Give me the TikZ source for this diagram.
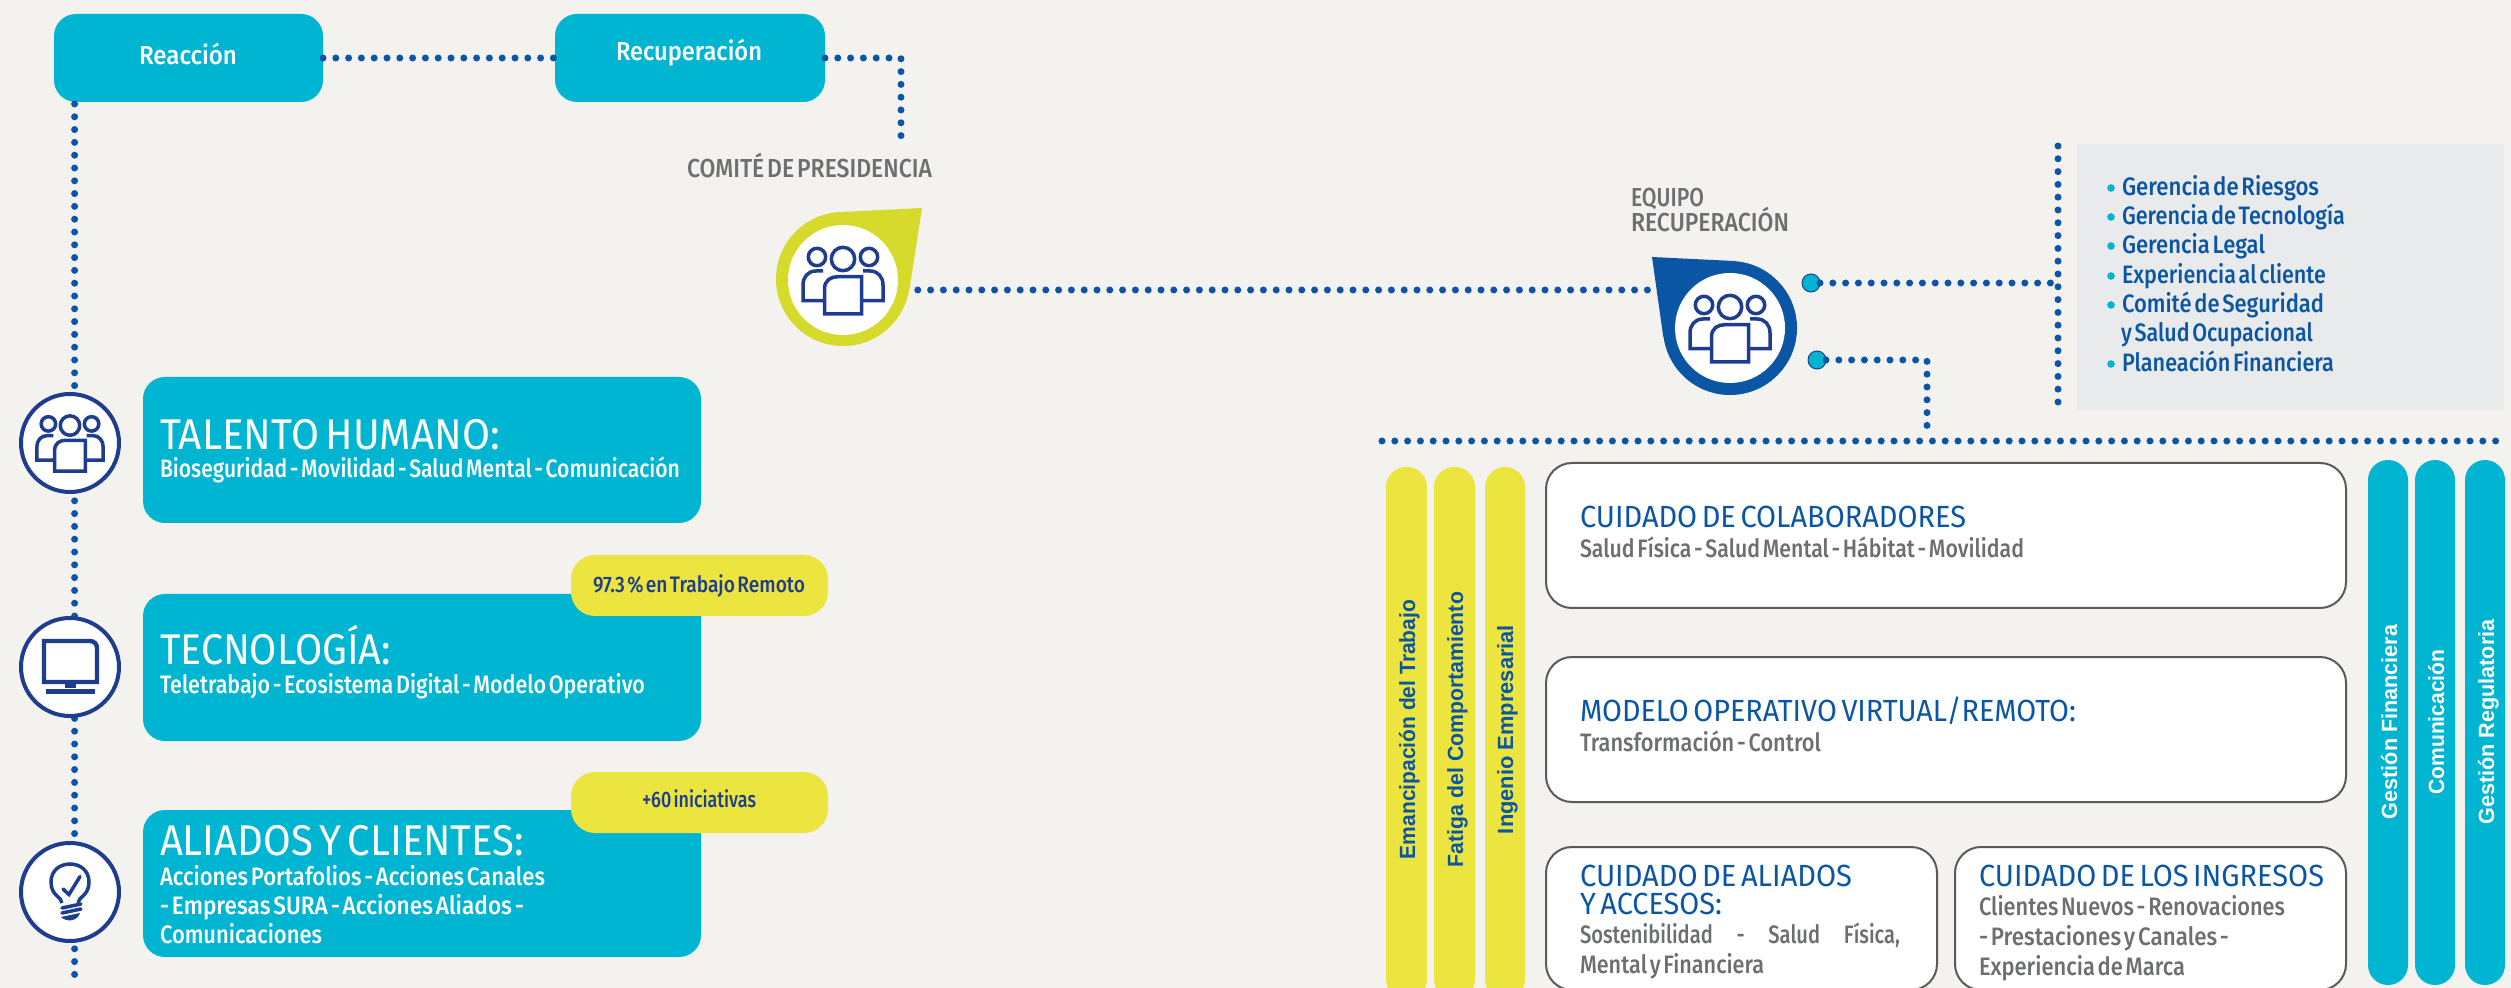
\documentclass[tikz,border=0pt]{standalone}
\usepackage{graphicx}
\usepackage{fontspec}
\setmainfont{Fira Sans}
\newfontfamily\dinr{Fira Sans}[WordSpace=0.6]
\newfontfamily\dinm{Fira Sans Medium}[WordSpace=0.5]
\newfontfamily\wide{Liberation Sans}
\usetikzlibrary{calc}
\definecolor{paper}{HTML}{F3F2EE}
\definecolor{cyanbox}{HTML}{00B5D1}
\definecolor{dotblue}{HTML}{0B56A4}
\definecolor{iconblue}{HTML}{1F3D8F}
\definecolor{pillyellow}{HTML}{ECE43F}
\definecolor{lime}{HTML}{D6DA2B}
\definecolor{labelgray}{HTML}{6D6E70}
\definecolor{panelgray}{HTML}{E9EAEC}
\definecolor{edgegray}{HTML}{5A5A5A}
\newlength\fitlen
\newcommand\fitw[2]{\settowidth\fitlen{#2}\pgfmathsetmacro\fitr{#1*0.5/\fitlen}\scalebox{\fitr}[1]{#2}}
\newcommand\txtline[6]{\node[txtbase,#5,anchor=base west] (#1) at (#2,#3) {\fitw{#4}{#6}};}
\newcommand\vlabel[6]{\node[txtbase,rotate=90,anchor=base,font=\wide\bfseries\fontsize{11}{12}\selectfont,text=#5] (#1) at (#2,#3) {\fitw{#4}{#6}};}
\tikzset{
  txtbase/.style={inner sep=0pt,outer sep=0pt},
  bigtitle/.style={font=\dinr\fontsize{21.5}{23}\selectfont,text=white},
  subwhite/.style={font=\dinm\fontsize{12.6}{14}\selectfont,text=white},
  btn/.style={font=\dinm\fontsize{13}{15}\selectfont,text=white},
  pilltxt/.style={font=\dinm\fontsize{11.2}{13}\selectfont,text=iconblue},
  bluetitle/.style={font=\dinr\fontsize{15.3}{17}\selectfont,text=dotblue},
  graysub/.style={font=\dinm\fontsize{12.6}{14}\selectfont,text=labelgray},
  graylabel/.style={font=\dinm\fontsize{13}{15}\selectfont,text=labelgray},
  listtxt/.style={font=\dinm\fontsize{12.6}{14}\selectfont,text=dotblue},
  cbox/.style={fill=cyanbox,rounded corners=11pt,inner sep=0pt,outer sep=0pt},
  ypill/.style={fill=pillyellow,rounded corners=12pt,inner sep=0pt,outer sep=0pt},
  wbox/.style={fill=white,draw=edgegray,line width=1pt,rounded corners=13pt,inner sep=0pt,outer sep=0pt},
  vpilly/.style={fill=pillyellow,rounded corners=10pt,inner sep=0pt,outer sep=0pt},
  vpillc/.style={fill=cyanbox,rounded corners=10pt,inner sep=0pt,outer sep=0pt},
  iconring/.style={circle,fill=white,draw=iconblue,line width=2pt,minimum size=49pt,inner sep=0pt,outer sep=0pt},
  dotline/.style={draw=dotblue,line width=3.5pt,line cap=round,dash pattern=on 0pt off 6.4pt},
  knob/.style={circle,fill=cyanbox,draw=iconblue,line width=0.5pt,minimum size=9pt,inner sep=0pt,outer sep=0pt},
  bubblein/.style={circle,fill=white,minimum size=55pt,inner sep=0pt,outer sep=0pt},
  icon/.style={draw=iconblue,line width=1.75pt},
  pics/people/.style={code={
    \draw[icon] (0,-21) circle[radius=11.7];
    \draw[icon] (-26,-23) circle[radius=8.7];
    \draw[icon] (26,-23) circle[radius=8.7];
    \draw[icon] (-18.5,34) -- (-18.5,9) .. controls (-18.5,0) and (-12,-3.3) .. (-5,-3.3) -- (18.5,-3.3) -- (18.5,34) -- cycle;
    \draw[icon] (-20,-9) -- (-27,-9) .. controls (-35,-9) and (-40,-3) .. (-40,5) -- (-40,20.7) -- (-20,20.7);
    \draw[icon] (20,-9) -- (27,-9) .. controls (35,-9) and (40,-3) .. (40,5) -- (40,20.7) -- (20,20.7);
  }},
  pics/monitor/.style={code={
    \draw[icon,line width=2.2pt] (-26,-26) -- (20,-26) .. controls (24,-26) and (27,-23) .. (27,-19) -- (27,15) -- (-26,15) -- cycle;
    \fill[iconblue] (-5,15) rectangle (6,21);
    \fill[iconblue] (-24,22) rectangle (25,27);
  }},
  pics/bulb/.style={code={
    \draw[icon] (-8,11) .. controls (-8,5) and (-19,4) .. (-19,-10) .. controls (-19,-34) and (19,-34) .. (19,-10) .. controls (19,4) and (8,5) .. (8,11);
    \draw[icon,line cap=round] (-7,-3) -- (-1,2.5) -- (10,-15.5);
    \draw[icon,line cap=round] (-8,16) -- (11,12);
    \draw[icon,line cap=round] (-8,21) -- (11,17);
    \fill[iconblue] (-9,25) -- (10,21) .. controls (7,30) and (-4,30) .. cycle;
  }}
}
\begin{document}
\begin{tikzpicture}[x=0.5pt,y=-0.5pt]
\useasboundingbox (0,0) rectangle (2511,988);
\fill[paper] (0,0) rectangle (2511,988);

% top buttons
\node[cbox,minimum width=134.5pt,minimum height=44pt] (react) at (188.5,58) {};
\node[cbox,minimum width=135pt,minimum height=44pt] (recu) at (690,58) {};
\txtline{reactT}{139}{65}{98}{btn}{Reacción}
\txtline{recuT}{616}{61}{146}{btn}{Recuperación}

% left boxes
\node[cbox,minimum width=279pt,minimum height=73pt] (tal) at (422,450) {};
\node[cbox,minimum width=279pt,minimum height=73.5pt] (tec) at (422,667.5) {};
\node[cbox,minimum width=279pt,minimum height=73.5pt] (ali) at (422,883.5) {};
\node[ypill,minimum width=128.5pt,minimum height=30.5pt] (p1) at (699.5,585.5) {};
\node[ypill,minimum width=128.5pt,minimum height=30.5pt] (p2) at (699.5,802.5) {};
\txtline{p1T}{593}{593}{212}{pilltxt}{97.3 \% en Trabajo Remoto}
\txtline{p2T}{642}{807}{114}{pilltxt}{+60 iniciativas}

\txtline{talA}{160}{450}{340}{bigtitle}{TALENTO HUMANO:}
\txtline{talB}{160}{478}{520}{subwhite}{Bioseguridad - Movilidad - Salud Mental - Comunicación}
\txtline{tecA}{160}{664}{231}{bigtitle}{TECNOLOGÍA:}
\txtline{tecB}{160}{693}{485}{subwhite}{Teletrabajo - Ecosistema Digital - Modelo Operativo}
\txtline{aliA}{160}{855}{364}{bigtitle}{ALIADOS Y CLIENTES:}
\txtline{aliB}{160}{885}{385}{subwhite}{Acciones Portafolios - Acciones Canales}
\txtline{aliC}{160}{914}{364}{subwhite}{- Empresas SURA - Acciones Aliados -}
\txtline{aliD}{160}{943}{162}{subwhite}{Comunicaciones}

% connectors
\coordinate (vtop) at (74.6,104);
\coordinate (vbot) at (74.6,984);
\coordinate (corner) at (901,58);
\coordinate (comEnd) at (901,140);
\coordinate (gOut) at (905,290);
\coordinate (tIn) at (1655,290);
\coordinate (k1line) at (2058,283);
\coordinate (k2turn) at (1927,360);
\coordinate (k2end) at (1927,432);
\coordinate (hL) at (1382,441);
\coordinate (hR) at (2496,441);
\coordinate (pTop) at (2058,146);
\coordinate (pBot) at (2058,408);
\draw[dotline] (vtop) -- (vbot);
\draw[dotline] (react.east) -- (recu.west);
\draw[dotline] (recu.east) -- (corner) -- (comEnd);
\draw[dotline] (gOut) -- (tIn);
\draw[dotline] (pTop) -- (pBot);
\draw[dotline] (hL) -- (hR);

% icons on the left axis
\node[iconring] (c1) at (70,443) {};
\node[iconring] (c2) at (70,667) {};
\node[iconring] (c3) at (70,892) {};
\pic[scale=0.83] at (c1) {people};
\pic at (c2) {monitor};
\pic at (c3) {bulb};

% lime bubble
\fill[lime] (843,279) circle[radius=67];
\fill[lime] (922,208) -- (841,212) -- (843,279) -- (909.5,289) -- cycle;
\node[bubblein] (gr) at (843,280) {};
\pic at (gr) {people};
\txtline{comT}{687}{178}{245}{graylabel}{COMITÉ DE PRESIDENCIA}

% blue bubble
\fill[dotblue] (1730,328) circle[radius=67];
\fill[dotblue] (1652,257) -- (1734,261) -- (1730,328) -- (1663.3,337) -- cycle;
\node[bubblein] (tm) at (1730,328) {};
\pic at (tm) {people};
\txtline{eqA}{1631}{207}{73}{graylabel}{EQUIPO}
\txtline{eqB}{1631}{232}{158}{graylabel}{RECUPERACIÓN}

% knobs
\node[knob] (k1) at (1811,283) {};
\node[knob] (k2) at (1817,360) {};
\draw[dotline] (k1.east) -- (k1line);
\draw[dotline] (k2.east) -- (k2turn) -- (k2end);

% grey panel
\node[fill=panelgray,minimum width=213.5pt,minimum height=133pt,inner sep=0pt,outer sep=0pt] (panel) at (2290.5,277) {};
\foreach \by in {196,225,254,284,313,372}{\fill[cyanbox] (2111,\by-8) circle[radius=3.8];}
\txtline{l1}{2122}{196}{197}{listtxt}{Gerencia de Riesgos}
\txtline{l2}{2122}{225}{223}{listtxt}{Gerencia de Tecnología}
\txtline{l3}{2122}{254}{143}{listtxt}{Gerencia Legal}
\txtline{l4}{2122}{284}{204}{listtxt}{Experiencia al cliente}
\txtline{l5}{2122}{313}{202}{listtxt}{Comité de Seguridad}
\txtline{l6}{2121}{342}{192}{listtxt}{y Salud Ocupacional}
\txtline{l7}{2122}{372}{212}{listtxt}{Planeación Financiera}

% vertical pills
\node[vpilly,minimum width=20.5pt,minimum height=266pt] (y1) at (1406.5,733) {};
\node[vpilly,minimum width=20.5pt,minimum height=266pt] (y2) at (1454.5,733) {};
\node[vpilly,minimum width=20pt,minimum height=266pt] (y3) at (1505,733) {};
\node[vpillc,minimum width=20pt,minimum height=262.5pt] (g1) at (2388,722.5) {};
\node[vpillc,minimum width=20pt,minimum height=262.5pt] (g2) at (2435,722.5) {};
\node[vpillc,minimum width=20pt,minimum height=262.5pt] (g3) at (2485,722.5) {};
\vlabel{y1T}{1415}{729.5}{259}{dotblue}{Emancipación del Trabajo}
\vlabel{y2T}{1463}{729.5}{275}{dotblue}{Fatiga del Comportamiento}
\vlabel{y3T}{1513}{729.5}{209}{dotblue}{Ingenio Empresarial}
\vlabel{g1T}{2397}{722}{194}{white}{Gestión Financiera}
\vlabel{g2T}{2444}{722}{145}{white}{Comunicación}
\vlabel{g3T}{2494}{722}{205}{white}{Gestión Regulatoria}

% white boxes
\node[wbox,minimum width=400pt,minimum height=72.5pt] (w1) at (1946,535.5) {};
\node[wbox,minimum width=400pt,minimum height=72.5pt] (w2) at (1946,729.5) {};
\node[wbox,minimum width=195.5pt,minimum height=71.5pt] (w3) at (1741.5,918.5) {};
\node[wbox,minimum width=195.5pt,minimum height=71.5pt] (w4) at (2150.5,918.5) {};
\txtline{w1A}{1580}{528}{386}{bluetitle}{CUIDADO DE COLABORADORES}
\txtline{w1B}{1580}{558}{444}{graysub}{Salud Física - Salud Mental - Hábitat - Movilidad}
\txtline{w2A}{1580}{721.5}{496}{bluetitle}{MODELO OPERATIVO VIRTUAL/REMOTO:}
\txtline{w2B}{1580}{751}{241}{graysub}{Transformación - Control}
\txtline{w3A}{1580}{886.5}{272}{bluetitle}{CUIDADO DE ALIADOS}
\txtline{w3B}{1580}{914}{142}{bluetitle}{Y ACCESOS:}
\node[txtbase,graysub,anchor=base west] (w3C) at (1580,943) {\scalebox{0.8}[1]{\hbox to 200pt{Sostenibilidad\hfill-\hfill Salud\hfill Física,}}};
\txtline{w3D}{1580}{973}{184}{graysub}{Mental y Financiera}
\txtline{w4A}{1979}{886.5}{345}{bluetitle}{CUIDADO DE LOS INGRESOS}
\txtline{w4B}{1979}{915.5}{306}{graysub}{Clientes Nuevos - Renovaciones}
\txtline{w4C}{1979}{945}{250}{graysub}{- Prestaciones y Canales -}
\txtline{w4D}{1979}{975}{206}{graysub}{Experiencia de Marca}
\end{tikzpicture}
\end{document}
